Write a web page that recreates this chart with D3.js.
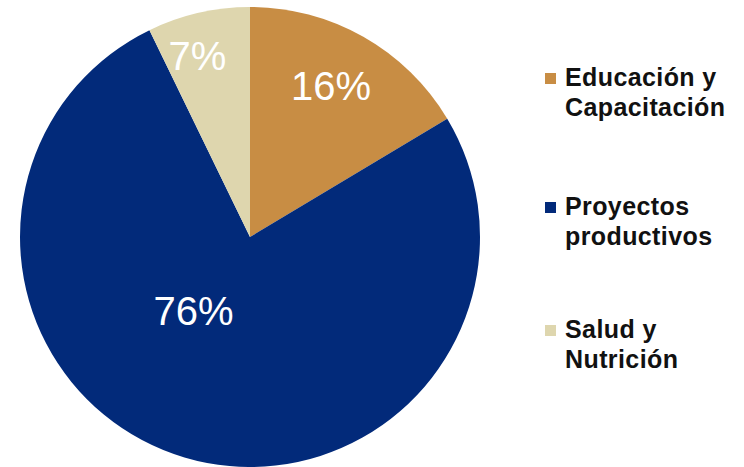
<!DOCTYPE html>
<html>
<head>
<meta charset="utf-8">
<script src="https://cdn.jsdelivr.net/npm/d3@7"></script>
<style>
  html, body { margin: 0; padding: 0; background: #fff; }
  svg { display: block; }
</style>
</head>
<body>
<svg id="chart" width="744" height="467"></svg>
<script>
// ---- data ----
const categories = ["Educación y Capacitación", "Proyectos productivos", "Salud y Nutrición"];
const legendLines = [["Educación y", "Capacitación"], ["Proyectos", "productivos"], ["Salud y", "Nutrición"]];
const values = [16.4, 76.4, 7.2];
const valueLabels = ["16%", "76%", "7%"];
const colors = ["#C88D44", "#022A7A", "#DED6AE"];

// ---- layout ----
const W = 744, H = 467;
const cx = 250, cy = 237, R = 230;
const labelRadius = [159, 105, 175];
const labelAngleShift = [1.1, 16, -4.5]; // degrees relative to slice mid-angle
const legendX = 545, legendTextX = 565, legendSq = 11;
const legendBaselines = [86, 215, 338];
const legendLineH = 29.5;

const svg = d3.select("#chart");
svg.append("rect").attr("width", W).attr("height", H).attr("fill", "#fff");

const pie = d3.pie().sort(null).value(d => d)(values);
const arc = d3.arc().innerRadius(0).outerRadius(R);

const g = svg.append("g").attr("transform", `translate(${cx},${cy})`);
g.selectAll("path.slice")
  .data(pie)
  .join("path")
  .attr("class", "slice")
  .attr("d", arc)
  .attr("fill", (d, i) => colors[i]);

g.selectAll("text.val")
  .data(pie)
  .join("text")
  .attr("class", "val")
  .attr("transform", (d, i) => {
    const a = (d.startAngle + d.endAngle) / 2 + labelAngleShift[i] * Math.PI / 180;
    const p = d3.pointRadial(a, labelRadius[i]);
    return `translate(${p[0]},${p[1]})`;
  })
  .attr("text-anchor", "middle")
  .attr("font-family", "'Liberation Sans', Arial, sans-serif")
  .attr("font-size", 40)
  .attr("fill", "#fff")
  .text((d, i) => valueLabels[i]);

// legend
const lg = svg.append("g");
const items = lg.selectAll("g.item")
  .data(categories)
  .join("g")
  .attr("class", "item");

items.append("rect")
  .attr("x", legendX)
  .attr("y", (d, i) => legendBaselines[i] - 13)
  .attr("width", legendSq)
  .attr("height", legendSq)
  .attr("fill", (d, i) => colors[i]);

items.append("text")
  .attr("x", legendTextX)
  .attr("y", (d, i) => legendBaselines[i])
  .attr("font-family", "'Liberation Sans', Arial, sans-serif")
  .attr("font-weight", "bold")
  .attr("font-size", 25)
  .attr("letter-spacing", 0.4)
  .attr("fill", "#111")
  .selectAll("tspan")
  .data((d, i) => legendLines[i])
  .join("tspan")
  .attr("x", legendTextX)
  .attr("dy", (d, j) => j === 0 ? 0 : legendLineH)
  .text(d => d);
</script>
</body>
</html>
